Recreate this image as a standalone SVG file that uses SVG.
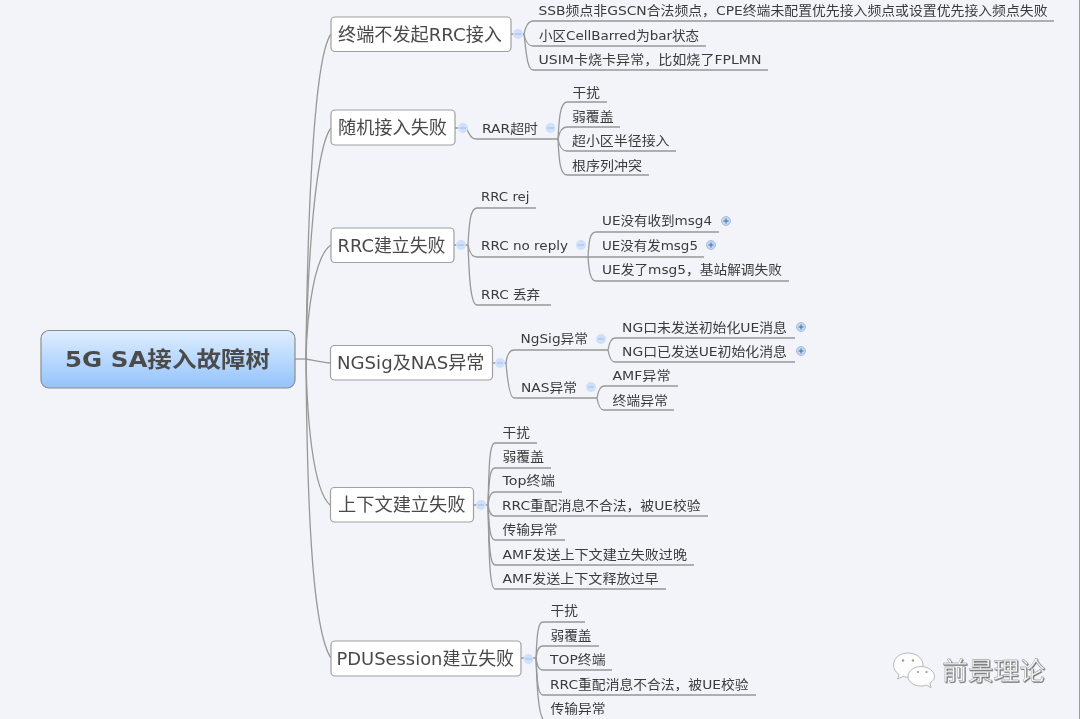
<svg xmlns="http://www.w3.org/2000/svg" width="1080" height="719" viewBox="0 0 1080 719">
<style>
text{font-family:"DejaVu Sans","Noto Sans CJK SC",sans-serif;fill:#3a3a3a;}
.leaf{font-size:13px;}
.main{font-size:18px;fill:#4a4a4a;}
.root{font-size:22px;font-weight:700;fill:#4c4c4c;}
.box{fill:#fff;stroke:#a0a0a0;stroke-width:1.2;}
.conn{fill:none;stroke:#989898;stroke-width:1.3;}
.minus circle{fill:#cfe0f8;}
.minus path{stroke:#9dbde8;stroke-width:1;fill:none;}
.plus circle{fill:#c3d6ee;stroke:#9db5d2;stroke-width:.8;}
.plus path{stroke:#3f6ea8;stroke-width:1;fill:none;}
.wm{font-size:25.5px;fill:#fafafa;stroke:#8c8c8c;stroke-width:.4;}
.bub{fill:#fdfdfd;stroke:#a8a8a8;stroke-width:.8;}
.eye{fill:#9a9a9a;}
</style>
<defs>
<linearGradient id="rootFill" x1="0" y1="0" x2="0" y2="1"><stop offset="0" stop-color="#dfeeff"/><stop offset="1" stop-color="#93c3fb"/></linearGradient>
<g id="mi" class="minus"><circle r="5"/><path d="M-3 0H3"/></g>
<g id="pl" class="plus"><circle r="4.5"/><path d="M-2.5 0H2.5M0-2.5V2.5"/></g>
<filter id="soft" x="-2%" y="-2%" width="104%" height="104%"><feGaussianBlur stdDeviation="0.4"/></filter>
<filter id="sh" x="-10%" y="-10%" width="120%" height="130%"><feDropShadow dx="0.8" dy="0.8" stdDeviation="0.5" flood-color="#666"/></filter>
</defs>
<rect width="1080" height="719" fill="#f2f4f9"/>
<path d="M1079.500 0V719" stroke="#9a9a9a" stroke-width="1"/>
<g filter="url(#soft)">
<g id="connectors" class="conn">
<path d="M295 359H306"/>
<path d="M306 359C307 250 312 60 331 34"/>
<path d="M306 359C307 280 314 150 331 128"/>
<path d="M306 359C307 310 315 255 331 245"/>
<path d="M306 359C312 360 320 362 330 363"/>
<path d="M306 359C307 420 313 490 330 505"/>
<path d="M306 359C307 500 312 630 331 658"/>
<path d="M510 34H524C525 28 528 21 533 21H1054"/>
<path d="M524 34C525 40 528 46 533 46H706"/>
<path d="M524 34C526 50 527 70 533 70H768"/>
<path d="M455 128H466C469 132 470 139 476 139H558"/>
<path d="M558 139C559 120 560 102 567 102H607"/>
<path d="M558 139C559 133 561 127 567 127H620"/>
<path d="M558 139C559 145 561 151 567 151H676"/>
<path d="M558 139C559 160 560 175 567 175H649"/>
<path d="M454 245H468C469 225 470 208 477 208H536"/>
<path d="M468 245C469 251 471 257 477 257H588"/>
<path d="M468 245C469 270 470 305 477 305H551"/>
<path d="M588 257C589 240 590 232 596 232H719"/>
<path d="M588 257H704"/>
<path d="M588 257C589 270 590 281 596 281H789"/>
<path d="M492 363H506C507 355 509 350 514 350H608"/>
<path d="M506 363C507 375 509 398 514 398H597"/>
<path d="M608 350C609 344 611 338 615 338H795"/>
<path d="M608 350C609 356 611 362 615 362H795"/>
<path d="M597 398C598 392 600 386 604 386H678"/>
<path d="M597 398C598 404 600 410 604 410H674"/>
<path d="M473 505H488C489 470 489 443 495 443H537"/>
<path d="M488 505C489 485 489 468 495 468H551"/>
<path d="M488 505C489 498 490 492 495 492H562"/>
<path d="M488 505C489 510 490 516 495 516H708"/>
<path d="M488 505C489 520 489 540 495 540H565"/>
<path d="M488 505C489 535 489 565 495 565H694"/>
<path d="M488 505C489 545 489 589 495 589H666"/>
<path d="M521 658H536C537 640 537 622 543 622H585"/>
<path d="M536 658C537 652 538 646 543 646H599"/>
<path d="M536 658C537 664 538 670 543 670H612"/>
<path d="M536 658C537 675 537 695 543 695H756"/>
<path d="M536 658C537 685 538 712 543 719"/>
</g>
<g id="root"><rect x="41" y="330.500" width="254" height="57.500" rx="8" fill="url(#rootFill)" stroke="#8c8c8c" stroke-width="1.200"/><text class="root" x="65" y="367" textLength="205" lengthAdjust="spacingAndGlyphs">5G SA接入故障树</text></g>
<g id="n1"><rect class="box" x="331" y="17" width="180" height="34.500" rx="4"/><text class="main" x="338" y="40.500" textLength="164" lengthAdjust="spacingAndGlyphs">终端不发起RRC接入</text><use href="#mi" x="518" y="34"/></g>
<g id="n1a"><text class="leaf" x="538.500" y="15" textLength="509" lengthAdjust="spacingAndGlyphs">SSB频点非GSCN合法频点，CPE终端未配置优先接入频点或设置优先接入频点失败</text></g>
<g id="n1b"><text class="leaf" x="539" y="39.500" textLength="160" lengthAdjust="spacingAndGlyphs">小区CellBarred为bar状态</text></g>
<g id="n1c"><text class="leaf" x="538.500" y="64" textLength="223" lengthAdjust="spacingAndGlyphs">USIM卡烧卡异常，比如烧了FPLMN</text></g>
<g id="n2"><rect class="box" x="331" y="110" width="124" height="35" rx="4"/><text class="main" x="338" y="134" textLength="109" lengthAdjust="spacingAndGlyphs">随机接入失败</text><use href="#mi" x="463" y="128"/></g>
<g id="n2a"><text class="leaf" x="482" y="133" textLength="56" lengthAdjust="spacingAndGlyphs">RAR超时</text><use href="#mi" x="550.500" y="128"/></g>
<g id="n2a1"><text class="leaf" x="572.500" y="97" textLength="27.500" lengthAdjust="spacingAndGlyphs">干扰</text></g>
<g id="n2a2"><text class="leaf" x="572" y="121" textLength="41.500" lengthAdjust="spacingAndGlyphs">弱覆盖</text></g>
<g id="n2a3"><text class="leaf" x="572" y="145" textLength="97.500" lengthAdjust="spacingAndGlyphs">超小区半径接入</text></g>
<g id="n2a4"><text class="leaf" x="572" y="170" textLength="70" lengthAdjust="spacingAndGlyphs">根序列冲突</text></g>
<g id="n3"><rect class="box" x="331" y="228" width="123" height="34.500" rx="4"/><text class="main" x="337.500" y="251.500" textLength="108" lengthAdjust="spacingAndGlyphs">RRC建立失败</text><use href="#mi" x="461" y="245"/></g>
<g id="n3a"><text class="leaf" x="481" y="201" textLength="48.500" lengthAdjust="spacingAndGlyphs">RRC rej</text></g>
<g id="n3b"><text class="leaf" x="481" y="249.500" textLength="87" lengthAdjust="spacingAndGlyphs">RRC no reply</text><use href="#mi" x="581" y="245"/></g>
<g id="n3c"><text class="leaf" x="481" y="299" textLength="59" lengthAdjust="spacingAndGlyphs">RRC 丢弃</text></g>
<g id="n3b1"><text class="leaf" x="602" y="225" textLength="110" lengthAdjust="spacingAndGlyphs">UE没有收到msg4</text><use href="#pl" x="726" y="221"/></g>
<g id="n3b2"><text class="leaf" x="602" y="250" textLength="96" lengthAdjust="spacingAndGlyphs">UE没有发msg5</text><use href="#pl" x="711" y="245"/></g>
<g id="n3b3"><text class="leaf" x="602" y="274" textLength="180" lengthAdjust="spacingAndGlyphs">UE发了msg5，基站解调失败</text></g>
<g id="n4"><rect class="box" x="330.500" y="345.500" width="162" height="34.500" rx="4"/><text class="main" x="337" y="369" textLength="147.500" lengthAdjust="spacingAndGlyphs">NGSig及NAS异常</text><use href="#mi" x="500" y="363"/></g>
<g id="n4a"><text class="leaf" x="520.500" y="343" textLength="67.500" lengthAdjust="spacingAndGlyphs">NgSig异常</text><use href="#mi" x="601" y="339"/></g>
<g id="n4b"><text class="leaf" x="521" y="392" textLength="56" lengthAdjust="spacingAndGlyphs">NAS异常</text><use href="#mi" x="591" y="387"/></g>
<g id="n4a1"><text class="leaf" x="622" y="331.500" textLength="165" lengthAdjust="spacingAndGlyphs">NG口未发送初始化UE消息</text><use href="#pl" x="801" y="327"/></g>
<g id="n4a2"><text class="leaf" x="622" y="356" textLength="165" lengthAdjust="spacingAndGlyphs">NG口已发送UE初始化消息</text><use href="#pl" x="801" y="351"/></g>
<g id="n4b1"><text class="leaf" x="612.500" y="380" textLength="58" lengthAdjust="spacingAndGlyphs">AMF异常</text></g>
<g id="n4b2"><text class="leaf" x="612.500" y="405" textLength="55.500" lengthAdjust="spacingAndGlyphs">终端异常</text></g>
<g id="n5"><rect class="box" x="330.500" y="487.500" width="143" height="34.500" rx="4"/><text class="main" x="338" y="511" textLength="127.500" lengthAdjust="spacingAndGlyphs">上下文建立失败</text><use href="#mi" x="481" y="505"/></g>
<g id="n5a"><text class="leaf" x="502.500" y="437" textLength="27.500" lengthAdjust="spacingAndGlyphs">干扰</text></g>
<g id="n5b"><text class="leaf" x="502.500" y="461" textLength="41.500" lengthAdjust="spacingAndGlyphs">弱覆盖</text></g>
<g id="n5c"><text class="leaf" x="502.500" y="485" textLength="52.500" lengthAdjust="spacingAndGlyphs">Top终端</text></g>
<g id="n5d"><text class="leaf" x="502" y="510" textLength="198.500" lengthAdjust="spacingAndGlyphs">RRC重配消息不合法，被UE校验</text></g>
<g id="n5e"><text class="leaf" x="502.500" y="534" textLength="55" lengthAdjust="spacingAndGlyphs">传输异常</text></g>
<g id="n5f"><text class="leaf" x="502.500" y="558.500" textLength="184.500" lengthAdjust="spacingAndGlyphs">AMF发送上下文建立失败过晚</text></g>
<g id="n5g"><text class="leaf" x="502.500" y="583" textLength="156" lengthAdjust="spacingAndGlyphs">AMF发送上下文释放过早</text></g>
<g id="n6"><rect class="box" x="331" y="641" width="190" height="35" rx="4"/><text class="main" x="336.500" y="665" textLength="177.500" lengthAdjust="spacingAndGlyphs">PDUSession建立失败</text><use href="#mi" x="528.500" y="659"/></g>
<g id="n6a"><text class="leaf" x="550.500" y="615" textLength="27.500" lengthAdjust="spacingAndGlyphs">干扰</text></g>
<g id="n6b"><text class="leaf" x="550.500" y="640" textLength="41" lengthAdjust="spacingAndGlyphs">弱覆盖</text></g>
<g id="n6c"><text class="leaf" x="550" y="664" textLength="55.500" lengthAdjust="spacingAndGlyphs">TOP终端</text></g>
<g id="n6d"><text class="leaf" x="550" y="689" textLength="198.500" lengthAdjust="spacingAndGlyphs">RRC重配消息不合法，被UE校验</text></g>
<g id="n6e"><text class="leaf" x="550.500" y="713" textLength="55" lengthAdjust="spacingAndGlyphs">传输异常</text></g>
</g>
<g id="watermark">
<path class="bub" d="M908 653C900 653 893.500 658 893.500 665C893.500 669 896 672.500 899 674.500L897.500 679L903 676.500C905 677 906.500 677.200 908 677.200C916 677.200 923 672 923 665C923 658 916 653 908 653Z"/>
<circle class="eye" cx="903" cy="660.500" r="1.200"/><circle class="eye" cx="913" cy="660.500" r="1.200"/>
<path class="bub" d="M921 666.500C914 666.500 908 671 908 676.500C908 682 914 686 921 686C923 686 925 685.700 926.500 685L931 688L930 683C933 681 934.500 679 934.500 676.500C934.500 671 928 666.500 921 666.500Z"/>
<circle class="eye" cx="918" cy="672" r="1.100"/><circle class="eye" cx="926.500" cy="672" r="1.100"/>
<text class="wm" x="942" y="680" textLength="103" lengthAdjust="spacingAndGlyphs" filter="url(#sh)">前景理论</text>
</g>
</svg>
